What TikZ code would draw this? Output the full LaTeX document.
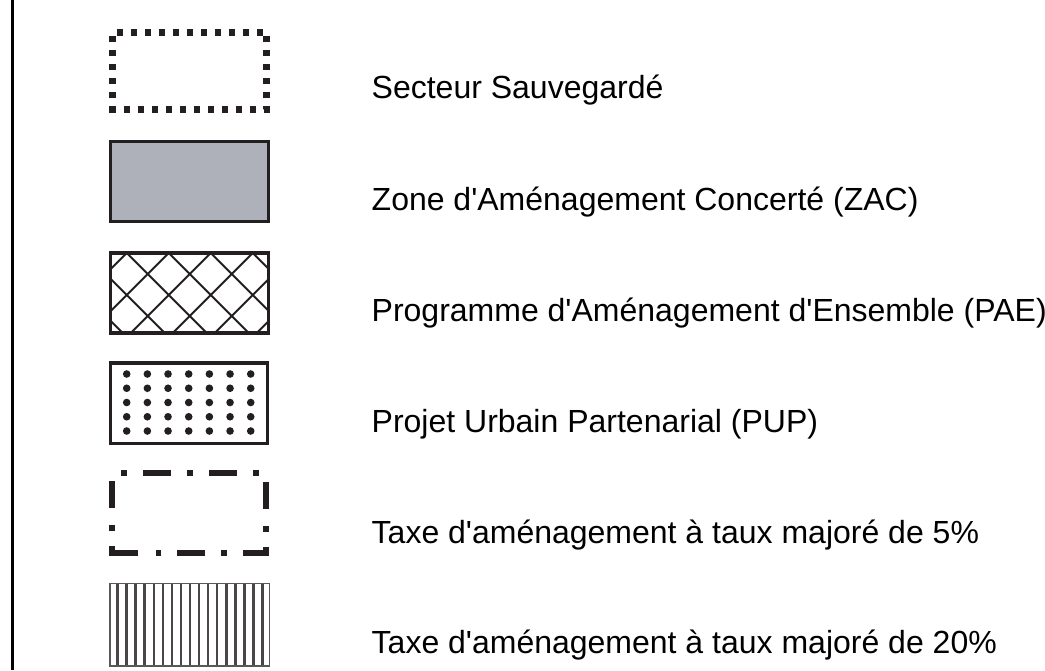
\documentclass[tikz,border=0pt]{standalone}
\usepackage{fontspec}
\setmainfont{Liberation Sans}[Ligatures=TeXOff]
\definecolor{ink}{RGB}{35,31,32}
\definecolor{zacgray}{RGB}{174,177,186}
\definecolor{hatch}{RGB}{74,69,70}
\begin{document}
\begin{tikzpicture}[x=1pt,y=-1pt,
  lbl/.style={anchor=base west,inner sep=0pt,font=\fontsize{32}{36}\selectfont,text=black},
  frame/.style={draw=ink,line width=3.2pt},
  dotsq/.style={draw=ink,line width=6.5pt,dash pattern=on 6pt off 8pt,dash phase=10pt},
  seg/.style={draw=ink,line width=6pt}]
\useasboundingbox (0,0) rectangle (1045,670);
\fill[white] (0,0) rectangle (1045,670);
% left border
\draw[line width=2.2pt,black] (12.5,0) -- (12.5,670);

% 1 Secteur Sauvegarde
\draw[dotsq] (112.7,32.3) rectangle (266.7,109.3);
\node[lbl] (l1) at (371.5,98.5) {Secteur Sauvegardé};

% 2 ZAC
\draw[frame,fill=zacgray] (110.7,141.7) rectangle (268.3,221.3);
\node[lbl] (l2) at (371.5,210) {Zone d'Aménagement Concerté (ZAC)};

% 3 PAE
\begin{scope}
\clip (110.5,253) rectangle (268.5,333);
\foreach \k in {-6,...,8}{
  \draw[ink,line width=2pt] ({126.7+42*\k-120},{253-120}) -- ({126.7+42*\k+120},{253+120});
  \draw[ink,line width=2pt] ({126.7+42*\k+120},{253-120}) -- ({126.7+42*\k-120},{253+120});
}
\end{scope}
\draw[frame] (110.5,253) rectangle (268.5,333);
\node[lbl] (l3) at (371.5,321) {Programme d'Aménagement d'Ensemble (PAE)};

% 4 PUP
\draw[frame] (110.5,363) rectangle (267.5,443.5);
\foreach \i in {0,...,6}{
  \foreach \j in {0,...,4}{
    \fill[ink] ({126.7+20.67*\i},{374+14.25*\j}) circle (3.8);
  }
}
\node[lbl] (l4) at (371.5,432) {Projet Urbain Partenarial (PUP)};

% 5 Taxe 5%
\draw[seg] (121,473.3) -- (127,473.3);
\draw[seg] (143,473.3) -- (171,473.3);
\draw[seg] (187,473.3) -- (193,473.3);
\draw[seg] (209,473.3) -- (237,473.3);
\draw[seg] (253,473.3) -- (259,473.3);
\draw[seg] (265.7,481.7) -- (265.7,509.3);
\draw[seg] (265.7,526) -- (265.7,532);
\draw[seg,line join=miter] (265.7,547) -- (265.7,552.5) -- (243,552.5);
\draw[seg] (226.7,552.5) -- (221.2,552.5);
\draw[seg] (205,552.5) -- (177.3,552.5);
\draw[seg] (161,552.5) -- (155.7,552.5);
\draw[seg,line join=miter] (138.3,552.5) -- (111.7,552.5) -- (111.7,546);
\draw[seg] (111.7,525) -- (111.7,531);
\draw[seg] (111.7,481) -- (111.7,508.3);
\node[lbl] (l5) at (371.5,543) {Taxe d'aménagement à taux majoré de 5\%};

% 6 Taxe 20%
\foreach \k in {0,...,16}{
  \draw[hatch,line width=2.7pt] ({117.7+9.04*\k},583.5) -- ({117.7+9.04*\k},666);
}
\draw[draw=ink!75,line width=1.6pt] (110,583.5) rectangle (269.5,666);
\node[lbl] (l6) at (371.5,653.5) {Taxe d'aménagement à taux majoré de 20\%};
\end{tikzpicture}
\end{document}
